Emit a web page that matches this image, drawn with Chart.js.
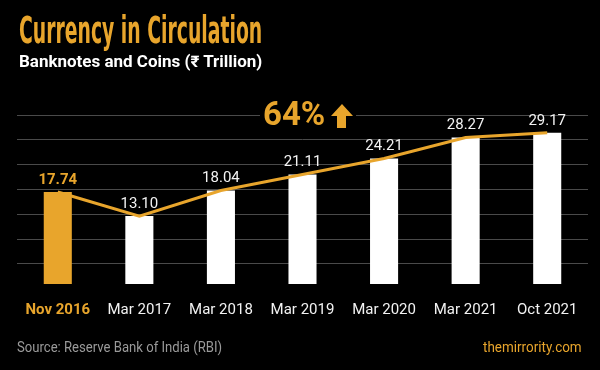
<!DOCTYPE html>
<html>
<head>
<meta charset="utf-8">
<script src="https://cdn.jsdelivr.net/npm/chart.js@4/dist/chart.umd.min.js"></script>
<style>
  html, body { margin: 0; padding: 0; background: #000; }
  #wrap { position: relative; width: 600px; height: 370px; background: #000; overflow: hidden; font-family: Roboto, "Noto Sans", sans-serif; }
  #chart { position: absolute; left: 0; top: 0; }
  .fit { position: absolute; white-space: nowrap; transform-origin: 0 0; }
  #title { left: 19px; top: 12px; font-family: "Liberation Sans Narrow", "DejaVu Sans Condensed", Roboto, sans-serif; font-weight: bold; font-size: 37px; line-height: 1; color: #e8a52c; }
  #subtitle { left: 19px; top: 52px; font-size: 16px; font-weight: bold; line-height: 1.2; color: #fff; }
  #growth { position: absolute; left: 260px; top: 99px; height: 34px; width: 96px; background: #000; }
  #growth span { position: absolute; left: 3px; top: -3px; font-size: 33px; font-weight: bold; line-height: 1.1; color: #e8a52c; }
  #growth svg { position: absolute; left: 71px; top: 5px; }
  #source { left: 17px; top: 339px; font-size: 14px; line-height: 1.2; color: #9a9a9a; }
  #site { left: 483px; top: 339px; font-size: 14px; line-height: 1.2; color: #e8a52c; }
</style>
</head>
<body>
<div id="wrap">
  <canvas id="chart" width="600" height="370"></canvas>
  <div id="title" class="fit" data-w="243">Currency in Circulation</div>
  <div id="subtitle" class="fit" data-w="243">Banknotes and Coins (₹ Trillion)</div>
  <div id="growth"><span>64%</span><svg width="22" height="24" viewBox="0 0 22 24"><polygon points="11,0 22,12 15,12 15,24 6,24 6,12 0,12" fill="#e8a52c"/></svg></div>
  <div id="source" class="fit" data-w="205">Source: Reserve Bank of India (RBI)</div>
  <div id="site" class="fit" data-w="99">themirrority.com</div>
</div>
<script>
(function() {
    const periods = ["Nov 2016", "Mar 2017", "Mar 2018", "Mar 2019", "Mar 2020", "Mar 2021", "Oct 2021"];
    const circulation = [17.74, 13.10, 18.04, 21.11, 24.21, 28.27, 29.17];

    const GOLD = "#e8a52c";

    // squeeze the html texts to the widths seen in the reference
    document.querySelectorAll(".fit").forEach(el => {
        const w = parseFloat(el.dataset.w);
        el.style.transform = `scaleX(${w / el.offsetWidth})`;
    });

    // value labels above each bar
    const valueLabels = {
        id: "valueLabels",
        afterDatasetsDraw(chart) {
            const ctx = chart.ctx;
            const meta = chart.getDatasetMeta(0);
            ctx.save();
            ctx.textAlign = "center";
            ctx.textBaseline = "middle";
            meta.data.forEach((bar, i) => {
                ctx.font = (i === 0 ? "bold " : "") + "15px Roboto";
                ctx.fillStyle = i === 0 ? GOLD : "#f2f2f2";
                ctx.fillText(circulation[i].toFixed(2), bar.x, bar.y - 12);
            });
            ctx.restore();
        }
    };

    new Chart(document.getElementById("chart"), {
        data: {
            labels: periods,
            datasets: [
                { type: "line", data: circulation, borderColor: GOLD, borderWidth: 3, pointRadius: 0, tension: 0, order: 0 },
                { type: "bar", data: circulation, backgroundColor: circulation.map((v, i) => i === 0 ? GOLD : "#ffffff"),
                  barPercentage: 0.344, categoryPercentage: 1, order: 1 }
            ]
        },
        options: {
            responsive: false,
            animation: false,
            layout: { padding: { left: 17, right: 12, top: 115, bottom: 42 } },
            plugins: { legend: { display: false }, tooltip: { enabled: false } },
            scales: {
                x: {
                    grid: { display: false },
                    border: { display: false },
                    ticks: {
                        padding: 9,
                        color: periods.map((p, i) => i === 0 ? GOLD : "#f2f2f2"),
                        font: c => ({ family: "Roboto", size: 15, weight: c.index === 0 ? "bold" : "normal" })
                    }
                },
                y: { display: false, min: 0, max: 32.6 },
                grid: {
                    position: "left",
                    min: -0.81, max: 6,
                    grid: { color: "#4a4a4a", lineWidth: 1, drawTicks: false },
                    border: { display: false },
                    ticks: { display: false, stepSize: 1, includeBounds: false }
                }
            }
        },
        plugins: [valueLabels]
    });
})();
</script>
</body>
</html>
